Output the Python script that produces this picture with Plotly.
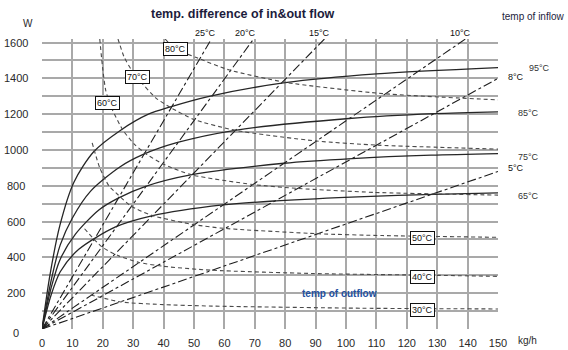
import plotly.graph_objects as go

# ---------------- data ----------------
x_ticks = [0, 10, 20, 30, 40, 50, 60, 70, 80, 90, 100, 110, 120, 130, 140, 150]
y_ticks = [0, 200, 400, 600, 800, 1000, 1200, 1400, 1600]
y_grid = list(range(0, 1700, 100))

# temperature difference lines (straight, from origin)
dt_labels = ["25°C", "20°C", "15°C", "10°C", "8°C", "5°C"]
dt_flow_end = [55.7, 69.6, 92.9, 139.3, 150, 150]
dt_q_end = [1620, 1620, 1620, 1620, 1400, 880]

# inflow temperature curves (solid)
in_labels = ["95°C", "85°C", "75°C", "65°C"]
flow_in95 = [0, 2.6, 5.9, 10.5, 17, 26, 35, 42, 55, 80, 110, 150]
q_in95 = [0, 300, 580, 820, 990, 1112, 1200, 1240, 1300, 1376, 1425, 1460]
flow_in85 = [0, 3, 6, 10, 16, 25.6, 33.3, 44.6, 63.5, 101, 129, 150]
q_in85 = [0, 270, 470, 620, 770, 905, 975, 1042, 1110, 1176, 1203, 1213]
flow_in75 = [0, 3, 6, 11, 18.7, 24.9, 34.1, 49.3, 79.6, 102, 128, 150]
q_in75 = [0, 230, 390, 530, 665, 730, 797, 862, 926, 952, 971, 980]
flow_in65 = [0, 3, 6, 12.1, 24.2, 36.1, 59.5, 77, 106, 129, 150]
q_in65 = [0, 190, 320, 445, 570, 632, 693, 716, 740, 752, 760]

# outflow temperature curves (dashed)
out_labels = ["80°C", "70°C", "60°C", "50°C", "40°C", "30°C"]
flow_out80 = [40.5, 43.8, 51, 61.4, 80, 112, 150]
q_out80 = [1620, 1565, 1515, 1448, 1378, 1315, 1280]
flow_out70 = [25.0, 27.0, 29.5, 31.5, 37.5, 42.5, 50.1, 63.5, 90.3, 110.4, 150]
q_out70 = [1620, 1520, 1445, 1400, 1290, 1235, 1170, 1110, 1050, 1027, 1005]
flow_out60 = [19.0, 20.0, 21.0, 23.0, 26.6, 30.5, 34.5, 40, 49.3, 69.4, 84.4, 109.3, 150]
q_out60 = [1620, 1450, 1330, 1230, 1111, 1030, 975, 920, 861, 807, 785, 763, 748]
flow_out50 = [16.5, 19, 22, 25, 29, 36, 50, 60, 91, 112, 150]
q_out50 = [1040, 900, 800, 750, 690, 635, 583, 562, 532, 522, 512]
flow_out40 = [14, 19.6, 25, 31.9, 40, 56, 89, 129, 150]
q_out40 = [560, 460, 410, 372, 350, 328, 310, 300, 294]
flow_out30 = [16, 26, 39, 56, 105, 150]
q_out30 = [190, 151, 137, 128, 116, 112]

# label positions
out_box_flow = [43.8, 31.3, 21.7, 125.3, 125.3, 125.3]
out_box_q = [1562, 1408, 1265, 508, 290, 106]
dt_top_flow = [53.9, 67.1, 91.4, 137.5]
in_label_q = [1458, 1207, 961, 743]
dt_right_q = [1408, 899]

FONT = "Liberation Sans, Arial, sans-serif"

fig = go.Figure()

# delta-t lines
for lab, fx, qy in zip(dt_labels, dt_flow_end, dt_q_end):
    fig.add_trace(go.Scatter(x=[0, fx], y=[0, qy], mode="lines",
                             line=dict(color="#1e1e1e", width=1.1, dash="dashdot"),
                             name=lab, showlegend=False, hoverinfo="skip"))

# inflow curves
for fx, qy, lab in zip([flow_in95, flow_in85, flow_in75, flow_in65],
                       [q_in95, q_in85, q_in75, q_in65], in_labels):
    fig.add_trace(go.Scatter(x=fx, y=qy, mode="lines",
                             line=dict(color="#262626", width=1.3, shape="spline", smoothing=0.8),
                             name=lab, showlegend=False, hoverinfo="skip"))

# outflow curves
for fx, qy, lab in zip([flow_out80, flow_out70, flow_out60, flow_out50, flow_out40, flow_out30],
                       [q_out80, q_out70, q_out60, q_out50, q_out40, q_out30], out_labels):
    fig.add_trace(go.Scatter(x=fx, y=qy, mode="lines",
                             line=dict(color="#4a4a4a", width=1.1, dash="4px,3px",
                                       shape="spline", smoothing=0.6),
                             name=lab, showlegend=False, hoverinfo="skip"))

ann = []
txt = "#2a2a2a"


def A(**kw):
    kw.setdefault("showarrow", False)
    kw.setdefault("xanchor", "center")
    kw.setdefault("yanchor", "middle")
    ann.append(kw)


# y tick labels (centered)
for v in y_ticks:
    A(x=-0.057, xref="paper", y=v, yref="y", text=str(v), yshift=-4 if v == 0 else 0,
      font=dict(size=11, color=txt, family=FONT))
# outflow boxes
for lab, fx, qy in zip(out_labels, out_box_flow, out_box_q):
    A(x=fx, y=qy, xref="x", yref="y", text=lab,
      bgcolor="white", bordercolor="#111", borderwidth=1, borderpad=1,
      font=dict(size=9, color="#111", family=FONT))
# delta-t labels at top
for lab, fx in zip(dt_labels[:4], dt_top_flow):
    A(x=fx, xref="x", y=1.021, yref="paper", text=lab,
      font=dict(size=9, color="#111", family=FONT))
# delta-t labels at right
for lab, qy in zip(dt_labels[4:], dt_right_q):
    A(x=1.039, xref="paper", y=qy, yref="y", text=lab,
      font=dict(size=9, color="#111", family=FONT))
# inflow labels
for lab, qy, px in zip(in_labels, in_label_q, [1.092, 1.066, 1.066, 1.066]):
    A(x=px, xref="paper", y=qy, yref="y", text=lab,
      font=dict(size=9, color="#333", family=FONT))

A(x=0.441, xref="paper", y=1.086, yref="paper",
  text="<b>temp. difference of in&amp;out flow</b>",
  font=dict(size=12.5, color="#1c1c3c", family=FONT))
A(x=1.077, xref="paper", y=1.076, yref="paper",
  text="temp of inflow", font=dict(size=10, color="#1c1c3c", family=FONT))
A(x=98, xref="x", y=196, yref="y",
  text="<b>temp of outflow</b>", font=dict(size=10, color="#2350a0", family=FONT))
A(x=-0.031, xref="paper", y=1.055, yref="paper",
  text="W", font=dict(size=10, color=txt, family=FONT))
A(x=1.064, xref="paper", y=-0.041, yref="paper",
  text="kg/h", font=dict(size=10, color=txt, family=FONT))

fig.update_layout(
    width=568, height=350,
    margin=dict(l=42, r=70, t=39, b=21),
    paper_bgcolor="white", plot_bgcolor="white",
    font=dict(family=FONT, size=10, color=txt),
    annotations=ann,
    showlegend=False,
    xaxis=dict(range=[0, 150], tickvals=x_ticks, ticktext=[str(v) for v in x_ticks],
               showgrid=True, gridcolor="#a9a9a9", gridwidth=2, zeroline=False,
               showline=False, ticks="outside", ticklen=4, tickcolor="rgba(0,0,0,0)",
               tickfont=dict(size=11, color=txt), automargin=False),
    yaxis=dict(range=[0, 1620], tickvals=y_grid, showticklabels=False,
               showgrid=True, gridcolor="#a9a9a9", gridwidth=2, zeroline=False,
               showline=False, ticks="", automargin=False),
)

fig.write_html("out.html", config={"displayModeBar": False},
               post_script="document.body.style.margin='0';document.body.style.overflow='hidden';")
